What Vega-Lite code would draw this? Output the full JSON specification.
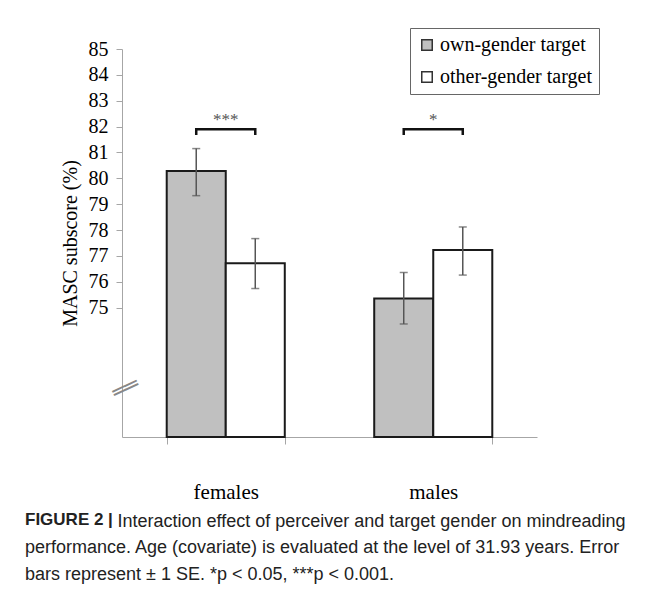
{
  "$schema": "https://vega.github.io/schema/vega-lite/v6.json",
  "width": 415,
  "height": 388,
  "autosize": {"type": "none"},
  "padding": {"left": 122, "top": 49, "right": 120, "bottom": 152},
  "background": "white",
  "config": {"view": {"stroke": null}},
  "title": {
    "text": "FIGURE 2 |",
    "subtitle": [
      "performance. Age (covariate) is evaluated at the level of 31.93 years. Error",
      "bars represent ± 1 SE. *p < 0.05, ***p < 0.001."
    ],
    "orient": "bottom",
    "anchor": "start",
    "frame": "group",
    "dx": -97,
    "offset": -18,
    "font": "Liberation Sans",
    "fontSize": 17,
    "fontWeight": "bold",
    "color": "#222222",
    "subtitleFont": "Liberation Sans",
    "subtitleFontSize": 18,
    "subtitleColor": "#222222",
    "subtitleLineHeight": 27,
    "subtitlePadding": 10
  },
  "datasets": {
    "bars": [
      {"gender": "females", "target": "own-gender target", "score": 80.28, "lo": 79.33, "hi": 81.15},
      {"gender": "females", "target": "other-gender target", "score": 76.72, "lo": 75.74, "hi": 77.67},
      {"gender": "males", "target": "own-gender target", "score": 75.35, "lo": 74.37, "hi": 76.36},
      {"gender": "males", "target": "other-gender target", "score": 77.23, "lo": 76.26, "hi": 78.12}
    ],
    "bracket": [
      {"gender": "females", "target": "own-gender target", "y": 81.68, "k": 1},
      {"gender": "females", "target": "own-gender target", "y": 81.9, "k": 2},
      {"gender": "females", "target": "other-gender target", "y": 81.9, "k": 3},
      {"gender": "females", "target": "other-gender target", "y": 81.68, "k": 4},
      {"gender": "males", "target": "own-gender target", "y": 81.68, "k": 1},
      {"gender": "males", "target": "own-gender target", "y": 81.9, "k": 2},
      {"gender": "males", "target": "other-gender target", "y": 81.9, "k": 3},
      {"gender": "males", "target": "other-gender target", "y": 81.68, "k": 4}
    ],
    "stars": [
      {"gender": "females", "y": 82.25, "label": "***"},
      {"gender": "males", "y": 82.25, "label": "*"}
    ]
  },
  "layer": [
    {
      "data": {"name": "bars"},
      "mark": {"type": "bar", "stroke": "#1a1a1a", "strokeWidth": 2},
      "encoding": {
        "x": {
          "field": "gender", "type": "nominal", "sort": ["females", "males"],
          "scale": {"paddingInner": 0.431, "paddingOuter": 0.2155},
          "axis": {
            "title": "Interaction effect of perceiver and target gender on mindreading",
            "titleFont": "Liberation Sans", "titleFontSize": 18, "titleFontWeight": "normal",
            "titleColor": "#222222", "titleAlign": "left", "titleAngle": 0, "titleBaseline": "alphabetic",
            "titleX": -5, "titleY": 89,
            "labelFont": "Liberation Serif", "labelFontSize": 21, "labelColor": "#000000",
            "labelPadding": 37, "labelAngle": 0, "tickBand": "extent", "tickSize": 7,
            "tickColor": "#a6a6a6", "domainColor": "#a6a6a6"
          }
        },
        "xOffset": {
          "field": "target", "type": "nominal", "sort": ["own-gender target", "other-gender target"],
          "scale": {"paddingInner": 0, "paddingOuter": 0}
        },
        "y": {
          "field": "score", "type": "quantitative",
          "scale": {"domain": [70, 85], "zero": false, "nice": false},
          "axis": {
            "values": [75, 76, 77, 78, 79, 80, 81, 82, 83, 84, 85],
            "title": "MASC subscore (%)", "titleFont": "Liberation Serif", "titleFontSize": 20,
            "titleFontWeight": "normal", "titleColor": "#000000", "titlePadding": 8,
            "labelFont": "Liberation Serif", "labelFontSize": 20, "labelColor": "#000000",
            "labelPadding": 8, "tickSize": 6, "tickColor": "#a6a6a6", "domainColor": "#a6a6a6", "grid": false
          }
        },
        "y2": {"datum": 70},
        "fill": {
          "field": "target", "type": "nominal", "sort": ["own-gender target", "other-gender target"],
          "scale": {"range": ["#c0c0c0", "#ffffff"]},
          "legend": {
            "title": null, "orient": "none", "legendX": 288, "legendY": -21,
            "symbolType": "square", "symbolSize": 110, "symbolStrokeColor": "#333333", "symbolStrokeWidth": 1.5,
            "labelFont": "Liberation Serif", "labelFontSize": 20, "labelColor": "#000000", "labelLimit": 300,
            "strokeColor": "#666666", "fillColor": "white", "padding": 7, "rowPadding": 12, "labelOffset": 3
          }
        }
      }
    },
    {
      "data": {"name": "bars"},
      "mark": {"type": "rule", "color": "#555555", "strokeWidth": 1.5},
      "encoding": {
        "x": {"field": "gender", "type": "nominal", "sort": ["females", "males"]},
        "xOffset": {"field": "target", "type": "nominal", "sort": ["own-gender target", "other-gender target"]},
        "y": {"field": "lo", "type": "quantitative", "axis": null},
        "y2": {"field": "hi"}
      }
    },
    {
      "data": {"name": "bars"},
      "mark": {"type": "tick", "color": "#555555", "size": 8, "thickness": 1.5},
      "encoding": {
        "x": {"field": "gender", "type": "nominal", "sort": ["females", "males"]},
        "xOffset": {"field": "target", "type": "nominal", "sort": ["own-gender target", "other-gender target"]},
        "y": {"field": "lo", "type": "quantitative", "axis": null}
      }
    },
    {
      "data": {"name": "bars"},
      "mark": {"type": "tick", "color": "#555555", "size": 8, "thickness": 1.5},
      "encoding": {
        "x": {"field": "gender", "type": "nominal", "sort": ["females", "males"]},
        "xOffset": {"field": "target", "type": "nominal", "sort": ["own-gender target", "other-gender target"]},
        "y": {"field": "hi", "type": "quantitative", "axis": null}
      }
    },
    {
      "data": {"name": "bracket"},
      "mark": {"type": "line", "color": "#111111", "strokeWidth": 2.5},
      "encoding": {
        "x": {"field": "gender", "type": "nominal", "sort": ["females", "males"]},
        "xOffset": {"field": "target", "type": "nominal", "sort": ["own-gender target", "other-gender target"]},
        "y": {"field": "y", "type": "quantitative", "axis": null},
        "order": {"field": "k", "type": "quantitative"},
        "detail": {"field": "gender", "type": "nominal"}
      }
    },
    {
      "data": {"name": "stars"},
      "mark": {"type": "text", "font": "Liberation Serif", "fontSize": 17, "color": "#555555", "baseline": "middle"},
      "encoding": {
        "x": {"field": "gender", "type": "nominal", "sort": ["females", "males"]},
        "y": {
          "field": "y", "type": "quantitative",
          "axis": {
            "orient": "left", "values": [71.9], "labelExpr": "'══'", "labelFont": "DejaVu Sans Mono",
            "labelFontSize": 22, "labelColor": "#888888", "labelAngle": -25, "labelAlign": "center",
            "labelBaseline": "middle", "labelPadding": -3, "ticks": false, "tickSize": 0, "domain": false,
            "grid": false, "title": null, "labelBound": false, "labelOverlap": false
          }
        },
        "text": {"field": "label", "type": "nominal"}
      }
    }
  ],
  "resolve": {"axis": {"y": "independent"}}
}
